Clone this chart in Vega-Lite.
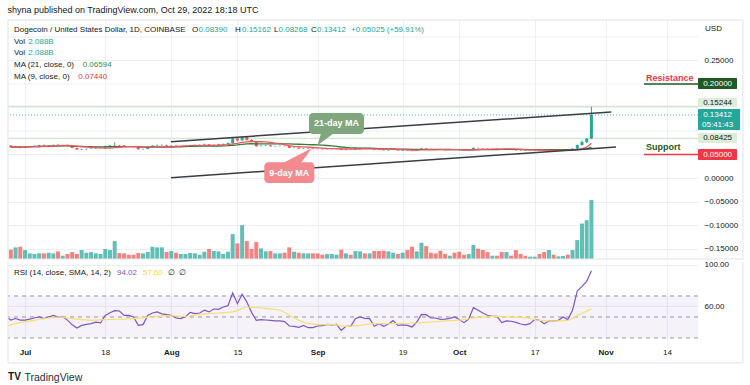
{
"$schema": "https://vega.github.io/schema/vega-lite/v6.json",
"background": "white",
"padding": {"left": 7, "top": 5, "right": 0, "bottom": 0},
"spacing": 0,
"title": {"text": "shyna published on TradingView.com, Oct 29, 2022 18:18 UTC", "anchor": "start", "frame": "bounds", "fontSize": 9, "fontWeight": "normal", "color": "#131722", "font": "Liberation Sans", "offset": 5},
"config": {
  "view": {"stroke": null},
  "concat": {"spacing": 0},
  "scale": {"continuousPadding": 0},
  "axis": {"labelFont": "Liberation Sans", "labelFontSize": 8, "labelColor": "#131722", "domain": false, "ticks": false, "tickSize": 0, "gridColor": "#eceff5", "gridWidth": 1, "labelOverlap": false},
  "text": {"font": "Liberation Sans"}
},
"datasets": {
"ohlc": [
{"t":"2022-06-28","o":0.0690,"h":0.0700,"l":0.0650,"c":0.0655,"v":328},
{"t":"2022-06-29","o":0.0655,"h":0.0675,"l":0.0645,"c":0.0668,"v":411},
{"t":"2022-06-30","o":0.0668,"h":0.0672,"l":0.0630,"c":0.0648,"v":434},
{"t":"2022-07-01","o":0.0648,"h":0.0680,"l":0.0640,"c":0.0665,"v":317},
{"t":"2022-07-02","o":0.0665,"h":0.0678,"l":0.0660,"c":0.0672,"v":199},
{"t":"2022-07-03","o":0.0672,"h":0.0690,"l":0.0665,"c":0.0685,"v":176},
{"t":"2022-07-04","o":0.0685,"h":0.0705,"l":0.0678,"c":0.0700,"v":199},
{"t":"2022-07-05","o":0.0700,"h":0.0712,"l":0.0675,"c":0.0688,"v":199},
{"t":"2022-07-06","o":0.0688,"h":0.0702,"l":0.0680,"c":0.0695,"v":223},
{"t":"2022-07-07","o":0.0695,"h":0.0712,"l":0.0690,"c":0.0705,"v":199},
{"t":"2022-07-08","o":0.0705,"h":0.0725,"l":0.0690,"c":0.0698,"v":270},
{"t":"2022-07-09","o":0.0698,"h":0.0708,"l":0.0692,"c":0.0703,"v":117},
{"t":"2022-07-10","o":0.0703,"h":0.0706,"l":0.0675,"c":0.0680,"v":176},
{"t":"2022-07-11","o":0.0680,"h":0.0682,"l":0.0635,"c":0.0640,"v":246},
{"t":"2022-07-12","o":0.0640,"h":0.0645,"l":0.0598,"c":0.0605,"v":176},
{"t":"2022-07-13","o":0.0605,"h":0.0618,"l":0.0590,"c":0.0612,"v":317},
{"t":"2022-07-14","o":0.0612,"h":0.0625,"l":0.0605,"c":0.0620,"v":223},
{"t":"2022-07-15","o":0.0620,"h":0.0635,"l":0.0615,"c":0.0628,"v":246},
{"t":"2022-07-16","o":0.0628,"h":0.0640,"l":0.0620,"c":0.0635,"v":199},
{"t":"2022-07-17","o":0.0635,"h":0.0648,"l":0.0628,"c":0.0640,"v":176},
{"t":"2022-07-18","o":0.0640,"h":0.0690,"l":0.0635,"c":0.0675,"v":352},
{"t":"2022-07-19","o":0.0675,"h":0.0700,"l":0.0665,"c":0.0690,"v":317},
{"t":"2022-07-20","o":0.0690,"h":0.0755,"l":0.0685,"c":0.0698,"v":633},
{"t":"2022-07-21","o":0.0698,"h":0.0705,"l":0.0672,"c":0.0690,"v":211},
{"t":"2022-07-22","o":0.0690,"h":0.0700,"l":0.0665,"c":0.0670,"v":199},
{"t":"2022-07-23","o":0.0670,"h":0.0678,"l":0.0655,"c":0.0665,"v":152},
{"t":"2022-07-24","o":0.0665,"h":0.0672,"l":0.0652,"c":0.0658,"v":152},
{"t":"2022-07-25","o":0.0658,"h":0.0662,"l":0.0605,"c":0.0612,"v":211},
{"t":"2022-07-26","o":0.0612,"h":0.0625,"l":0.0600,"c":0.0618,"v":199},
{"t":"2022-07-27","o":0.0618,"h":0.0665,"l":0.0612,"c":0.0660,"v":246},
{"t":"2022-07-28","o":0.0660,"h":0.0698,"l":0.0655,"c":0.0690,"v":434},
{"t":"2022-07-29","o":0.0690,"h":0.0712,"l":0.0682,"c":0.0695,"v":411},
{"t":"2022-07-30","o":0.0695,"h":0.0718,"l":0.0688,"c":0.0700,"v":411},
{"t":"2022-07-31","o":0.0700,"h":0.0708,"l":0.0678,"c":0.0685,"v":246},
{"t":"2022-08-01","o":0.0685,"h":0.0698,"l":0.0672,"c":0.0690,"v":282},
{"t":"2022-08-02","o":0.0690,"h":0.0695,"l":0.0662,"c":0.0670,"v":223},
{"t":"2022-08-03","o":0.0670,"h":0.0688,"l":0.0665,"c":0.0675,"v":176},
{"t":"2022-08-04","o":0.0675,"h":0.0690,"l":0.0668,"c":0.0682,"v":176},
{"t":"2022-08-05","o":0.0682,"h":0.0708,"l":0.0678,"c":0.0700,"v":211},
{"t":"2022-08-06","o":0.0700,"h":0.0712,"l":0.0695,"c":0.0705,"v":199},
{"t":"2022-08-07","o":0.0705,"h":0.0714,"l":0.0698,"c":0.0708,"v":152},
{"t":"2022-08-08","o":0.0708,"h":0.0732,"l":0.0702,"c":0.0715,"v":258},
{"t":"2022-08-09","o":0.0715,"h":0.0718,"l":0.0682,"c":0.0690,"v":352},
{"t":"2022-08-10","o":0.0690,"h":0.0712,"l":0.0680,"c":0.0705,"v":282},
{"t":"2022-08-11","o":0.0705,"h":0.0730,"l":0.0700,"c":0.0715,"v":270},
{"t":"2022-08-12","o":0.0715,"h":0.0730,"l":0.0708,"c":0.0725,"v":176},
{"t":"2022-08-13","o":0.0725,"h":0.0752,"l":0.0718,"c":0.0745,"v":258},
{"t":"2022-08-14","o":0.0745,"h":0.0860,"l":0.0740,"c":0.0840,"v":880},
{"t":"2022-08-15","o":0.0840,"h":0.0845,"l":0.0775,"c":0.0800,"v":551},
{"t":"2022-08-16","o":0.0800,"h":0.0885,"l":0.0795,"c":0.0870,"v":1196},
{"t":"2022-08-17","o":0.0870,"h":0.0878,"l":0.0798,"c":0.0810,"v":633},
{"t":"2022-08-18","o":0.0810,"h":0.0818,"l":0.0772,"c":0.0780,"v":352},
{"t":"2022-08-19","o":0.0780,"h":0.0785,"l":0.0660,"c":0.0680,"v":598},
{"t":"2022-08-20","o":0.0680,"h":0.0695,"l":0.0668,"c":0.0688,"v":375},
{"t":"2022-08-21","o":0.0688,"h":0.0702,"l":0.0680,"c":0.0695,"v":270},
{"t":"2022-08-22","o":0.0695,"h":0.0698,"l":0.0665,"c":0.0675,"v":282},
{"t":"2022-08-23","o":0.0675,"h":0.0686,"l":0.0668,"c":0.0680,"v":199},
{"t":"2022-08-24","o":0.0680,"h":0.0690,"l":0.0672,"c":0.0685,"v":199},
{"t":"2022-08-25","o":0.0685,"h":0.0692,"l":0.0672,"c":0.0678,"v":223},
{"t":"2022-08-26","o":0.0678,"h":0.0685,"l":0.0632,"c":0.0640,"v":411},
{"t":"2022-08-27","o":0.0640,"h":0.0650,"l":0.0630,"c":0.0645,"v":258},
{"t":"2022-08-28","o":0.0645,"h":0.0648,"l":0.0620,"c":0.0625,"v":223},
{"t":"2022-08-29","o":0.0625,"h":0.0638,"l":0.0618,"c":0.0630,"v":199},
{"t":"2022-08-30","o":0.0630,"h":0.0645,"l":0.0622,"c":0.0635,"v":199},
{"t":"2022-08-31","o":0.0635,"h":0.0640,"l":0.0620,"c":0.0625,"v":199},
{"t":"2022-09-01","o":0.0625,"h":0.0630,"l":0.0612,"c":0.0620,"v":199},
{"t":"2022-09-02","o":0.0620,"h":0.0628,"l":0.0608,"c":0.0612,"v":152},
{"t":"2022-09-03","o":0.0612,"h":0.0620,"l":0.0608,"c":0.0615,"v":176},
{"t":"2022-09-04","o":0.0615,"h":0.0624,"l":0.0610,"c":0.0620,"v":176},
{"t":"2022-09-05","o":0.0620,"h":0.0628,"l":0.0612,"c":0.0622,"v":152},
{"t":"2022-09-06","o":0.0622,"h":0.0632,"l":0.0592,"c":0.0598,"v":328},
{"t":"2022-09-07","o":0.0598,"h":0.0615,"l":0.0590,"c":0.0610,"v":199},
{"t":"2022-09-08","o":0.0610,"h":0.0614,"l":0.0598,"c":0.0605,"v":152},
{"t":"2022-09-09","o":0.0605,"h":0.0638,"l":0.0602,"c":0.0630,"v":282},
{"t":"2022-09-10","o":0.0630,"h":0.0645,"l":0.0625,"c":0.0640,"v":270},
{"t":"2022-09-11","o":0.0640,"h":0.0645,"l":0.0628,"c":0.0632,"v":199},
{"t":"2022-09-12","o":0.0632,"h":0.0645,"l":0.0625,"c":0.0635,"v":199},
{"t":"2022-09-13","o":0.0635,"h":0.0640,"l":0.0592,"c":0.0605,"v":282},
{"t":"2022-09-14","o":0.0605,"h":0.0612,"l":0.0595,"c":0.0600,"v":282},
{"t":"2022-09-15","o":0.0600,"h":0.0605,"l":0.0585,"c":0.0590,"v":293},
{"t":"2022-09-16","o":0.0590,"h":0.0602,"l":0.0585,"c":0.0598,"v":270},
{"t":"2022-09-17","o":0.0598,"h":0.0618,"l":0.0595,"c":0.0612,"v":223},
{"t":"2022-09-18","o":0.0612,"h":0.0615,"l":0.0580,"c":0.0585,"v":176},
{"t":"2022-09-19","o":0.0585,"h":0.0600,"l":0.0575,"c":0.0595,"v":223},
{"t":"2022-09-20","o":0.0595,"h":0.0600,"l":0.0582,"c":0.0588,"v":317},
{"t":"2022-09-21","o":0.0588,"h":0.0598,"l":0.0570,"c":0.0578,"v":434},
{"t":"2022-09-22","o":0.0578,"h":0.0602,"l":0.0575,"c":0.0598,"v":270},
{"t":"2022-09-23","o":0.0598,"h":0.0640,"l":0.0595,"c":0.0625,"v":575},
{"t":"2022-09-24","o":0.0625,"h":0.0630,"l":0.0612,"c":0.0618,"v":457},
{"t":"2022-09-25","o":0.0618,"h":0.0622,"l":0.0605,"c":0.0610,"v":223},
{"t":"2022-09-26","o":0.0610,"h":0.0614,"l":0.0598,"c":0.0605,"v":199},
{"t":"2022-09-27","o":0.0605,"h":0.0618,"l":0.0592,"c":0.0598,"v":293},
{"t":"2022-09-28","o":0.0598,"h":0.0602,"l":0.0585,"c":0.0595,"v":176},
{"t":"2022-09-29","o":0.0595,"h":0.0605,"l":0.0590,"c":0.0600,"v":117},
{"t":"2022-09-30","o":0.0600,"h":0.0606,"l":0.0592,"c":0.0598,"v":223},
{"t":"2022-10-01","o":0.0598,"h":0.0602,"l":0.0588,"c":0.0592,"v":258},
{"t":"2022-10-02","o":0.0592,"h":0.0596,"l":0.0580,"c":0.0585,"v":152},
{"t":"2022-10-03","o":0.0585,"h":0.0602,"l":0.0582,"c":0.0598,"v":176},
{"t":"2022-10-04","o":0.0598,"h":0.0648,"l":0.0596,"c":0.0640,"v":493},
{"t":"2022-10-05","o":0.0640,"h":0.0645,"l":0.0625,"c":0.0632,"v":364},
{"t":"2022-10-06","o":0.0632,"h":0.0638,"l":0.0622,"c":0.0628,"v":317},
{"t":"2022-10-07","o":0.0628,"h":0.0632,"l":0.0615,"c":0.0620,"v":246},
{"t":"2022-10-08","o":0.0620,"h":0.0626,"l":0.0616,"c":0.0622,"v":117},
{"t":"2022-10-09","o":0.0622,"h":0.0625,"l":0.0614,"c":0.0618,"v":117},
{"t":"2022-10-10","o":0.0618,"h":0.0622,"l":0.0595,"c":0.0600,"v":246},
{"t":"2022-10-11","o":0.0600,"h":0.0610,"l":0.0595,"c":0.0605,"v":246},
{"t":"2022-10-12","o":0.0605,"h":0.0608,"l":0.0596,"c":0.0600,"v":117},
{"t":"2022-10-13","o":0.0600,"h":0.0604,"l":0.0575,"c":0.0592,"v":317},
{"t":"2022-10-14","o":0.0592,"h":0.0605,"l":0.0584,"c":0.0588,"v":176},
{"t":"2022-10-15","o":0.0588,"h":0.0592,"l":0.0580,"c":0.0582,"v":117},
{"t":"2022-10-16","o":0.0582,"h":0.0590,"l":0.0580,"c":0.0586,"v":82},
{"t":"2022-10-17","o":0.0586,"h":0.0602,"l":0.0584,"c":0.0598,"v":82},
{"t":"2022-10-18","o":0.0598,"h":0.0606,"l":0.0585,"c":0.0590,"v":176},
{"t":"2022-10-19","o":0.0590,"h":0.0594,"l":0.0578,"c":0.0582,"v":246},
{"t":"2022-10-20","o":0.0582,"h":0.0598,"l":0.0578,"c":0.0590,"v":317},
{"t":"2022-10-21","o":0.0590,"h":0.0594,"l":0.0575,"c":0.0585,"v":152},
{"t":"2022-10-22","o":0.0585,"h":0.0594,"l":0.0582,"c":0.0590,"v":94},
{"t":"2022-10-23","o":0.0590,"h":0.0602,"l":0.0586,"c":0.0598,"v":106},
{"t":"2022-10-24","o":0.0598,"h":0.0602,"l":0.0586,"c":0.0592,"v":152},
{"t":"2022-10-25","o":0.0592,"h":0.0630,"l":0.0588,"c":0.0625,"v":317},
{"t":"2022-10-26","o":0.0625,"h":0.0712,"l":0.0620,"c":0.0700,"v":669},
{"t":"2022-10-27","o":0.0700,"h":0.0800,"l":0.0695,"c":0.0765,"v":1255},
{"t":"2022-10-28","o":0.0765,"h":0.0850,"l":0.0740,"c":0.0839,"v":1372},
{"t":"2022-10-29","o":0.0839,"h":0.15162,"l":0.08268,"c":0.13412,"v":2088}
],
"rsi": [
{"t":"2022-06-27","v":50},{"t":"2022-06-28","v":47},{"t":"2022-06-29","v":48.5},{"t":"2022-06-30","v":47},
{"t":"2022-07-01","v":47},{"t":"2022-07-02","v":48},{"t":"2022-07-03","v":49},{"t":"2022-07-04","v":50},{"t":"2022-07-05","v":48.5},{"t":"2022-07-06","v":50},{"t":"2022-07-07","v":51.5},{"t":"2022-07-08","v":50},{"t":"2022-07-09","v":50},{"t":"2022-07-10","v":47},{"t":"2022-07-11","v":42.5},{"t":"2022-07-12","v":39.5},{"t":"2022-07-13","v":42},{"t":"2022-07-14","v":43},{"t":"2022-07-15","v":43.6},{"t":"2022-07-16","v":45},{"t":"2022-07-17","v":44.3},{"t":"2022-07-18","v":51.5},{"t":"2022-07-19","v":54},{"t":"2022-07-20","v":56},{"t":"2022-07-21","v":55.7},{"t":"2022-07-22","v":51.5},{"t":"2022-07-23","v":51.5},{"t":"2022-07-24","v":50},{"t":"2022-07-25","v":42},{"t":"2022-07-26","v":42.7},{"t":"2022-07-27","v":51.5},{"t":"2022-07-28","v":53.8},{"t":"2022-07-29","v":54.8},{"t":"2022-07-30","v":53},{"t":"2022-07-31","v":52.2},
{"t":"2022-08-01","v":51.6},{"t":"2022-08-02","v":49},{"t":"2022-08-03","v":48.4},{"t":"2022-08-04","v":50.3},{"t":"2022-08-05","v":54.4},{"t":"2022-08-06","v":53.2},{"t":"2022-08-07","v":53.8},{"t":"2022-08-08","v":56.4},{"t":"2022-08-09","v":54.8},{"t":"2022-08-10","v":57.6},{"t":"2022-08-11","v":57.3},{"t":"2022-08-12","v":59.5},{"t":"2022-08-13","v":60.8},{"t":"2022-08-14","v":72.9},{"t":"2022-08-15","v":62.7},{"t":"2022-08-16","v":71.6},{"t":"2022-08-17","v":64.3},{"t":"2022-08-18","v":54.4},{"t":"2022-08-19","v":46.8},{"t":"2022-08-20","v":47.5},{"t":"2022-08-21","v":47.1},{"t":"2022-08-22","v":46.8},{"t":"2022-08-23","v":46.2},{"t":"2022-08-24","v":46.2},{"t":"2022-08-25","v":45.6},{"t":"2022-08-26","v":41.4},{"t":"2022-08-27","v":41.1},{"t":"2022-08-28","v":40.2},{"t":"2022-08-29","v":42},{"t":"2022-08-30","v":39.8},{"t":"2022-08-31","v":39.8},
{"t":"2022-09-01","v":41.4},{"t":"2022-09-02","v":41.7},{"t":"2022-09-03","v":43},{"t":"2022-09-04","v":42.4},{"t":"2022-09-05","v":43},{"t":"2022-09-06","v":37.3},{"t":"2022-09-07","v":41.1},{"t":"2022-09-08","v":41.1},{"t":"2022-09-09","v":48.4},{"t":"2022-09-10","v":50},{"t":"2022-09-11","v":48.7},{"t":"2022-09-12","v":48.4},{"t":"2022-09-13","v":41.1},{"t":"2022-09-14","v":43.6},{"t":"2022-09-15","v":41.1},{"t":"2022-09-16","v":43.3},{"t":"2022-09-17","v":46.5},{"t":"2022-09-18","v":42},{"t":"2022-09-19","v":42.4},{"t":"2022-09-20","v":42},{"t":"2022-09-21","v":40.5},{"t":"2022-09-22","v":45.2},{"t":"2022-09-23","v":52.5},{"t":"2022-09-24","v":52.2},{"t":"2022-09-25","v":49},{"t":"2022-09-26","v":49},{"t":"2022-09-27","v":47.8},{"t":"2022-09-28","v":48},{"t":"2022-09-29","v":48.7},{"t":"2022-09-30","v":50},
{"t":"2022-10-01","v":47.5},{"t":"2022-10-02","v":44.6},{"t":"2022-10-03","v":48},{"t":"2022-10-04","v":58.9},{"t":"2022-10-05","v":56.4},{"t":"2022-10-06","v":53.8},{"t":"2022-10-07","v":51.6},{"t":"2022-10-08","v":50.6},{"t":"2022-10-09","v":50.6},{"t":"2022-10-10","v":44.6},{"t":"2022-10-11","v":46.2},{"t":"2022-10-12","v":45.9},{"t":"2022-10-13","v":44.9},{"t":"2022-10-14","v":43.3},{"t":"2022-10-15","v":42.4},{"t":"2022-10-16","v":43.6},{"t":"2022-10-17","v":47.8},{"t":"2022-10-18","v":46.8},{"t":"2022-10-19","v":43.6},{"t":"2022-10-20","v":46.2},{"t":"2022-10-21","v":46.2},{"t":"2022-10-22","v":46.8},{"t":"2022-10-23","v":50},{"t":"2022-10-24","v":47.5},{"t":"2022-10-25","v":56.4},{"t":"2022-10-26","v":74.8},{"t":"2022-10-27","v":79.2},{"t":"2022-10-28","v":84},{"t":"2022-10-29","v":94.02}
],
"rsisma": [
{"t":"2022-06-27","v":41.1},{"t":"2022-06-30","v":44.6},{"t":"2022-07-03","v":46.8},{"t":"2022-07-06","v":49},{"t":"2022-07-08","v":50},{"t":"2022-07-11","v":48.4},{"t":"2022-07-15","v":46.8},{"t":"2022-07-18","v":47.5},{"t":"2022-07-24","v":48.4},{"t":"2022-07-28","v":50},{"t":"2022-07-31","v":51.3},{"t":"2022-08-04","v":50.6},{"t":"2022-08-07","v":52.5},{"t":"2022-08-11","v":53.8},{"t":"2022-08-14","v":54.8},{"t":"2022-08-16","v":57.9},{"t":"2022-08-17","v":59.5},{"t":"2022-08-20","v":58.6},{"t":"2022-08-24","v":56.4},{"t":"2022-08-26","v":51.6},{"t":"2022-08-28","v":46.8},{"t":"2022-08-30","v":43.6},{"t":"2022-09-02","v":42.7},{"t":"2022-09-04","v":43},{"t":"2022-09-07","v":41.1},{"t":"2022-09-10","v":42},{"t":"2022-09-13","v":43.6},{"t":"2022-09-19","v":43.6},{"t":"2022-09-23","v":44.6},{"t":"2022-09-28","v":46.2},{"t":"2022-10-02","v":47.5},{"t":"2022-10-05","v":49.7},{"t":"2022-10-08","v":50.6},{"t":"2022-10-11","v":50},{"t":"2022-10-15","v":49.4},{"t":"2022-10-18","v":46.8},{"t":"2022-10-21","v":46.2},{"t":"2022-10-24","v":46.8},{"t":"2022-10-26","v":51.3},{"t":"2022-10-29","v":57.6}
],
"legend": [
{"t":"2022-06-28T16:00:00Z","p":0.3143,"txt":"Dogecoin / United States Dollar, 1D, COINBASE","g":"dark"},
{"t":"2022-08-05T09:00:00Z","p":0.3143,"txt":"O","g":"dark"},
{"t":"2022-08-06T18:15:00Z","p":0.3143,"txt":"0.08390","g":"teal"},
{"t":"2022-08-14T11:45:00Z","p":0.3143,"txt":"H","g":"dark"},
{"t":"2022-08-15T23:20:00Z","p":0.3143,"txt":"0.15162","g":"teal"},
{"t":"2022-08-22T18:00:00Z","p":0.3143,"txt":"L","g":"dark"},
{"t":"2022-08-23T17:00:00Z","p":0.3143,"txt":"0.08268","g":"teal"},
{"t":"2022-08-30T14:10:00Z","p":0.3143,"txt":"C","g":"dark"},
{"t":"2022-08-31T20:40:00Z","p":0.3143,"txt":"0.13412","g":"teal"},
{"t":"2022-09-08T01:40:00Z","p":0.3143,"txt":"+0.05025 (+59.91%)","g":"teal"},
{"t":"2022-06-28T16:00:00Z","p":0.2887,"txt":"Vol","g":"dark"},
{"t":"2022-07-01T17:00:00Z","p":0.2887,"txt":"2.088B","g":"teal"},
{"t":"2022-06-28T16:00:00Z","p":0.2653,"txt":"Vol","g":"dark"},
{"t":"2022-07-01T17:00:00Z","p":0.2653,"txt":"2.088B","g":"teal"},
{"t":"2022-06-28T16:00:00Z","p":0.2404,"txt":"MA (21, close, 0)","g":"dark"},
{"t":"2022-07-13T05:20:00Z","p":0.2404,"txt":"0.06594","g":"green"},
{"t":"2022-06-28T16:00:00Z","p":0.2149,"txt":"MA (9, close, 0)","g":"dark"},
{"t":"2022-07-12T07:00:00Z","p":0.2149,"txt":"0.07440","g":"red"},
{"t":"2022-11-22T01:40:00Z","p":0.317,"txt":"USD","g":"dark"}
],
"rsilegend": [
{"t":"2022-06-28T16:00:00Z","v":91.6,"txt":"RSI (14, close, SMA, 14, 2)","g":"dark"},
{"t":"2022-07-20T11:45:00Z","v":91.6,"txt":"94.02","g":"purple"},
{"t":"2022-07-25T22:30:00Z","v":91.6,"txt":"57.60","g":"yellow"},
{"t":"2022-07-31T05:30:00Z","v":91.6,"txt":"∅","g":"dark"},
{"t":"2022-08-02T16:30:00Z","v":91.6,"txt":"∅","g":"dark"}
],
"logo": [{"t":"2022-06-28T18:40:00Z","v":-6.9,"txt":"TV"}],
"channel": [
{"a":"2022-07-31T22:00:00Z","b":"2022-11-02T05:00:00Z","p1":0.0772,"p2":0.1404},
{"a":"2022-07-31T22:00:00Z","b":"2022-11-03T05:00:00Z","p1":0.0007,"p2":0.0660}
],
"boxes": [
{"a":"2022-08-30T04:00:00Z","b":"2022-09-10T19:40:00Z","p1":0.1383,"p2":0.0936,"k":"21"},
{"a":"2022-08-20T16:48:00Z","b":"2022-08-31T07:00:00Z","p1":0.0334,"p2":-0.0106,"k":"9"}
],
"pointers": [
{"t":"2022-09-01T00:15:00Z","y":0.0702,"y2":0.0702,"k":"21"},
{"t":"2022-09-01T17:00:00Z","y":0.0957,"y2":0.0749,"k":"21"},
{"t":"2022-09-04T11:15:00Z","y":0.0957,"y2":0.0957,"k":"21"},
{"t":"2022-08-24T15:50:00Z","y":0.0319,"y2":0.0319,"k":"9"},
{"t":"2022-08-28T11:20:00Z","y":0.0517,"y2":0.0319,"k":"9"},
{"t":"2022-08-30T19:12:00Z","y":0.0638,"y2":0.0638,"k":"9"}
],
"boxtext": [
{"t":"2022-09-05T00:00:00Z","p":0.1160,"txt":"21-day MA"},
{"t":"2022-08-26T00:00:00Z","p":0.0113,"txt":"9-day MA"}
],
"rs": [
{"a":"2022-11-09T03:20:00Z","b":"2022-11-20T13:55:00Z","p":0.2,"k":"res"},
{"a":"2022-11-09T03:20:00Z","b":"2022-11-20T13:55:00Z","p":0.05,"k":"sup"}
],
"rstext": [
{"t":"2022-11-09T13:40:00Z","p":0.2134,"txt":"Resistance","k":"res"},
{"t":"2022-11-09T13:40:00Z","p":0.066,"txt":"Support","k":"sup"}
],
"tags": [
{"k":"res","a":"2022-11-20T13:55:00Z","b":"2022-11-28T20:25:00Z","p1":0.2128,"p2":0.1894},
{"k":"hi","a":"2022-11-20T13:55:00Z","b":"2022-11-28T20:25:00Z","p1":0.1702,"p2":0.1511},
{"k":"cur","a":"2022-11-20T13:55:00Z","b":"2022-11-29T12:00:00Z","p1":0.1468,"p2":0.1021},
{"k":"lo","a":"2022-11-20T13:55:00Z","b":"2022-11-28T20:25:00Z","p1":0.0957,"p2":0.0745},
{"k":"sup","a":"2022-11-20T13:55:00Z","b":"2022-11-28T20:25:00Z","p1":0.0617,"p2":0.0383}
],
"tagtext": [
{"k":"res","t":"2022-11-24T17:30:00Z","p":0.2,"txt":"0.20000"},
{"k":"hi","t":"2022-11-24T17:30:00Z","p":0.1606,"txt":"0.15244"},
{"k":"cur","t":"2022-11-24T17:30:00Z","p":0.1330,"txt":"0.13412"},
{"k":"cur","t":"2022-11-24T17:30:00Z","p":0.1138,"txt":"05:41:43"},
{"k":"lo","t":"2022-11-24T17:30:00Z","p":0.0851,"txt":"0.08425"},
{"k":"sup","t":"2022-11-24T17:30:00Z","p":0.05,"txt":"0.05000"}
],
"frame1": [
{"a":"2022-06-27T09:36:00Z","b":"2022-11-30T02:24:00Z","p1":0.3361,"p2":0.3361},
{"a":"2022-11-30T02:24:00Z","b":"2022-11-30T02:24:00Z","p1":0.3361,"p2":-0.1723},
{"a":"2022-06-27T09:36:00Z","b":"2022-06-27T09:36:00Z","p1":0.3361,"p2":-0.1723},
{"a":"2022-06-27T09:36:00Z","b":"2022-11-30T02:24:00Z","p1":-0.1723,"p2":-0.1723}
],
"frame2": [
{"a":"2022-11-30T02:24:00Z","b":"2022-11-30T02:24:00Z","p1":102.4,"p2":6.15},
{"a":"2022-06-27T09:36:00Z","b":"2022-06-27T09:36:00Z","p1":102.4,"p2":6.15},
{"a":"2022-06-27T09:36:00Z","b":"2022-11-30T02:24:00Z","p1":6.15,"p2":6.15}
]
},
"vconcat": [
{
 "width": 690, "height": 239,
 "resolve": {"scale": {"y": "independent"}},
 "layer": [
  {
   "data": {"name": "ohlc"},
   "mark": {"type": "bar", "size": 4, "opacity": 0.72},
   "encoding": {
    "x": {"field": "t", "type": "temporal", "title": null,
      "scale": {"type": "utc", "nice": false, "domain": [{"year":2022,"month":6,"date":27,"hours":9,"minutes":36,"utc":true},{"year":2022,"month":11,"date":20,"hours":13,"minutes":55,"utc":true}]},
      "axis": {"labels": false, "grid": true, "values": [{"year":2022,"month":7,"date":1,"utc":true},{"year":2022,"month":7,"date":18,"utc":true},{"year":2022,"month":8,"date":1,"utc":true},{"year":2022,"month":8,"date":15,"utc":true},{"year":2022,"month":9,"date":1,"utc":true},{"year":2022,"month":9,"date":19,"utc":true},{"year":2022,"month":10,"date":1,"utc":true},{"year":2022,"month":10,"date":17,"utc":true},{"year":2022,"month":11,"date":1,"utc":true},{"year":2022,"month":11,"date":14,"utc":true}]}},
    "y": {"field": "v", "type": "quantitative", "title": null, "scale": {"domain": [0, 8450], "nice": false}, "axis": null},
    "color": {"condition": {"test": "datum.c >= datum.o", "value": "#26a69a"}, "value": "#ef5350"}
   }
  },
  {
   "layer": [
    {
     "data": {"values": [{"g": 0.3}, {"g": 0.2}, {"g": 0.15}, {"g": 0.1}, {"g": 0.05}]},
     "mark": {"type": "rule", "color": "#eceff5", "strokeWidth": 1},
     "encoding": {"y": {"field": "g", "type": "quantitative"}}
    },
    {
     "data": {"values": [{"p": 0.15244}, {"p": 0.08425}]},
     "mark": {"type": "rule", "color": "#cfe8cc", "strokeWidth": 1.2},
     "encoding": {"y": {"field": "p", "type": "quantitative", "title": null,
        "scale": {"domain": [-0.17234, 0.33617], "nice": false, "zero": false},
        "axis": {"orient": "right", "grid": true, "labelPadding": 6, "labelOverlap": false, "format": ".5f", "values": [0.25, 0, -0.05, -0.1, -0.15]}}}
    },
    {
     "data": {"values": [{"p": 0.13412}]},
     "mark": {"type": "rule", "color": "#26a69a", "strokeWidth": 1, "strokeDash": [1, 2], "opacity": 0.8},
     "encoding": {"y": {"field": "p", "type": "quantitative"}}
    },
    {
     "data": {"name": "ohlc"},
     "mark": {"type": "rule", "strokeWidth": 1},
     "encoding": {
      "x": {"field": "t", "type": "temporal"},
      "y": {"field": "l", "type": "quantitative"},
      "y2": {"field": "h"},
      "color": {"condition": {"test": "datum.c >= datum.o", "value": "#26a69a"}, "value": "#ef5350"}
     }
    },
    {
     "data": {"name": "ohlc"},
     "mark": {"type": "bar", "size": 3},
     "encoding": {
      "x": {"field": "t", "type": "temporal"},
      "y": {"field": "o", "type": "quantitative"},
      "y2": {"field": "c"},
      "color": {"condition": {"test": "datum.c >= datum.o", "value": "#26a69a"}, "value": "#ef5350"}
     }
    },
    {
     "data": {"name": "ohlc"},
     "transform": [{"window": [{"op": "mean", "field": "c", "as": "ma21"}], "frame": [-20, 0], "sort": [{"field": "t"}]}],
     "mark": {"type": "line", "color": "#2e7d32", "strokeWidth": 1.3},
     "encoding": {
      "x": {"field": "t", "type": "temporal"},
      "y": {"field": "ma21", "type": "quantitative"}
     }
    },
    {
     "data": {"name": "ohlc"},
     "transform": [{"window": [{"op": "mean", "field": "c", "as": "ma9"}], "frame": [-8, 0], "sort": [{"field": "t"}]}],
     "mark": {"type": "line", "color": "#f7525f", "strokeWidth": 1.3},
     "encoding": {
      "x": {"field": "t", "type": "temporal"},
      "y": {"field": "ma9", "type": "quantitative"}
     }
    },
    {
     "data": {"name": "channel"},
     "mark": {"type": "rule", "color": "#3a3d45", "strokeWidth": 1.5},
     "encoding": {
      "x": {"field": "a", "type": "temporal"},
      "x2": {"field": "b"},
      "y": {"field": "p1", "type": "quantitative"},
      "y2": {"field": "p2"}
     }
    },
    {
     "data": {"name": "pointers"},
     "mark": {"type": "area"},
     "encoding": {
      "x": {"field": "t", "type": "temporal"},
      "y": {"field": "y", "type": "quantitative"},
      "y2": {"field": "y2"},
      "detail": {"field": "k"},
      "color": {"condition": {"test": "datum.k === '21'", "value": "#7fa67d"}, "value": "#f38a90"}
     }
    },
    {
     "data": {"name": "boxes"},
     "mark": {"type": "rect", "cornerRadius": 4},
     "encoding": {
      "x": {"field": "a", "type": "temporal"},
      "x2": {"field": "b"},
      "y": {"field": "p1", "type": "quantitative"},
      "y2": {"field": "p2"},
      "color": {"condition": {"test": "datum.k === '21'", "value": "#7fa67d"}, "value": "#f38a90"}
     }
    },
    {
     "data": {"name": "boxtext"},
     "mark": {"type": "text", "color": "white", "fontSize": 9, "fontWeight": "bold", "align": "center", "baseline": "middle"},
     "encoding": {
      "x": {"field": "t", "type": "temporal"},
      "y": {"field": "p", "type": "quantitative"},
      "text": {"field": "txt"}
     }
    },
    {
     "data": {"name": "rs"},
     "mark": {"type": "rule", "strokeWidth": 1.5},
     "encoding": {
      "x": {"field": "a", "type": "temporal"},
      "x2": {"field": "b"},
      "y": {"field": "p", "type": "quantitative"},
      "color": {"condition": {"test": "datum.k === 'res'", "value": "#1e5a22"}, "value": "#f23645"}
     }
    },
    {
     "data": {"name": "rstext"},
     "mark": {"type": "text", "fontSize": 9, "fontWeight": "bold", "align": "left", "baseline": "middle"},
     "encoding": {
      "x": {"field": "t", "type": "temporal"},
      "y": {"field": "p", "type": "quantitative"},
      "text": {"field": "txt"},
      "color": {"condition": {"test": "datum.k === 'res'", "value": "#f23645"}, "value": "#1e5a22"}
     }
    },
    {
     "data": {"name": "tags"},
     "mark": {"type": "rect", "cornerRadius": 1},
     "encoding": {
      "x": {"field": "a", "type": "temporal"},
      "x2": {"field": "b"},
      "y": {"field": "p1", "type": "quantitative"},
      "y2": {"field": "p2"},
      "color": {"condition": [{"test": "datum.k === 'res'", "value": "#1e5a22"}, {"test": "datum.k === 'cur'", "value": "#26a69a"}, {"test": "datum.k === 'sup'", "value": "#f23645"}], "value": "#dbeed8"}
     }
    },
    {
     "data": {"name": "tagtext"},
     "mark": {"type": "text", "fontSize": 8, "align": "center", "baseline": "middle"},
     "encoding": {
      "x": {"field": "t", "type": "temporal"},
      "y": {"field": "p", "type": "quantitative"},
      "text": {"field": "txt"},
      "color": {"condition": {"test": "datum.k === 'hi' || datum.k === 'lo'", "value": "#131722"}, "value": "white"}
     }
    },
    {
     "data": {"name": "legend"},
     "mark": {"type": "text", "fontSize": 8, "align": "left", "baseline": "middle"},
     "encoding": {
      "x": {"field": "t", "type": "temporal"},
      "y": {"field": "p", "type": "quantitative"},
      "text": {"field": "txt"},
      "color": {"condition": [{"test": "datum.g === 'teal'", "value": "#26a69a"}, {"test": "datum.g === 'green'", "value": "#388e3c"}, {"test": "datum.g === 'red'", "value": "#f23645"}], "value": "#131722"}
     }
    },
    {
     "data": {"name": "frame1"},
     "mark": {"type": "rule", "color": "#e0e3eb", "strokeWidth": 1},
     "encoding": {
      "x": {"field": "a", "type": "temporal"},
      "x2": {"field": "b"},
      "y": {"field": "p1", "type": "quantitative"},
      "y2": {"field": "p2"}
     }
    }
   ]
  }
 ]
},
{
 "width": 690, "height": 79,
 "layer": [
  {
   "data": {"values": [{"lo": 30, "hi": 70}]},
   "mark": {"type": "rect", "color": "#7e57c2", "opacity": 0.08},
   "encoding": {
    "y": {"field": "lo", "type": "quantitative"},
    "y2": {"field": "hi"}
   }
  },
  {
   "data": {"values": [{"r": 70}, {"r": 50}, {"r": 30}]},
   "mark": {"type": "rule", "color": "#9598a1", "strokeWidth": 1, "strokeDash": [4, 4]},
   "encoding": {"y": {"field": "r", "type": "quantitative"}}
  },
  {
   "data": {"name": "rsi"},
   "mark": {"type": "line", "color": "#7e57c2", "strokeWidth": 1.2, "clip": true},
   "encoding": {
    "x": {"field": "t", "type": "temporal", "title": "TradingView",
      "scale": {"type": "utc", "nice": false, "domain": [{"year":2022,"month":6,"date":27,"hours":9,"minutes":36,"utc":true},{"year":2022,"month":11,"date":20,"hours":13,"minutes":55,"utc":true}]},
      "axis": {"grid": true, "labelPadding": 7,
        "values": [{"year":2022,"month":7,"date":1,"utc":true},{"year":2022,"month":7,"date":18,"utc":true},{"year":2022,"month":8,"date":1,"utc":true},{"year":2022,"month":8,"date":15,"utc":true},{"year":2022,"month":9,"date":1,"utc":true},{"year":2022,"month":9,"date":19,"utc":true},{"year":2022,"month":10,"date":1,"utc":true},{"year":2022,"month":10,"date":17,"utc":true},{"year":2022,"month":11,"date":1,"utc":true},{"year":2022,"month":11,"date":14,"utc":true}],
        "labelExpr": "utcdate(datum.value) == 1 ? utcFormat(datum.value, '%b') : utcFormat(datum.value, '%-d')",
        "labelFontWeight": {"condition": {"test": "utcdate(datum.value) == 1", "value": "bold"}, "value": "normal"},
        "titleAnchor": "start", "titleAlign": "left", "titleBaseline": "middle", "titleX": 16, "titleY": 36,
        "titleFontSize": 10.5, "titleFontWeight": "normal", "titleColor": "#2a2e39", "titleFont": "Liberation Sans"}},
    "y": {"field": "v", "type": "quantitative", "title": null,
      "scale": {"domain": [27.1, 102.4], "nice": false, "zero": false},
      "axis": {"orient": "right", "values": [60, 100], "format": ".2f", "grid": true, "labelPadding": 6}}
   }
  },
  {
   "data": {"name": "rsisma"},
   "mark": {"type": "line", "color": "#f7df6f", "strokeWidth": 1.2, "interpolate": "monotone", "clip": true},
   "encoding": {
    "x": {"field": "t", "type": "temporal"},
    "y": {"field": "v", "type": "quantitative"}
   }
  },
  {
   "data": {"name": "rsilegend"},
   "mark": {"type": "text", "fontSize": 8, "align": "left", "baseline": "middle"},
   "encoding": {
    "x": {"field": "t", "type": "temporal"},
    "y": {"field": "v", "type": "quantitative"},
    "text": {"field": "txt"},
    "color": {"condition": [{"test": "datum.g === 'purple'", "value": "#7e57c2"}, {"test": "datum.g === 'yellow'", "value": "#f2d44e"}], "value": "#131722"}
   }
  },
  {
   "data": {"name": "logo"},
   "mark": {"type": "text", "fontSize": 10, "fontWeight": "bold", "align": "center", "baseline": "middle", "color": "#131722"},
   "encoding": {
    "x": {"field": "t", "type": "temporal"},
    "y": {"field": "v", "type": "quantitative"},
    "text": {"field": "txt"}
   }
  },
  {
   "data": {"name": "frame2"},
   "mark": {"type": "rule", "color": "#e0e3eb", "strokeWidth": 1},
   "encoding": {
    "x": {"field": "a", "type": "temporal"},
    "x2": {"field": "b"},
    "y": {"field": "p1", "type": "quantitative"},
    "y2": {"field": "p2"}
   }
  }
 ]
}
]
}
